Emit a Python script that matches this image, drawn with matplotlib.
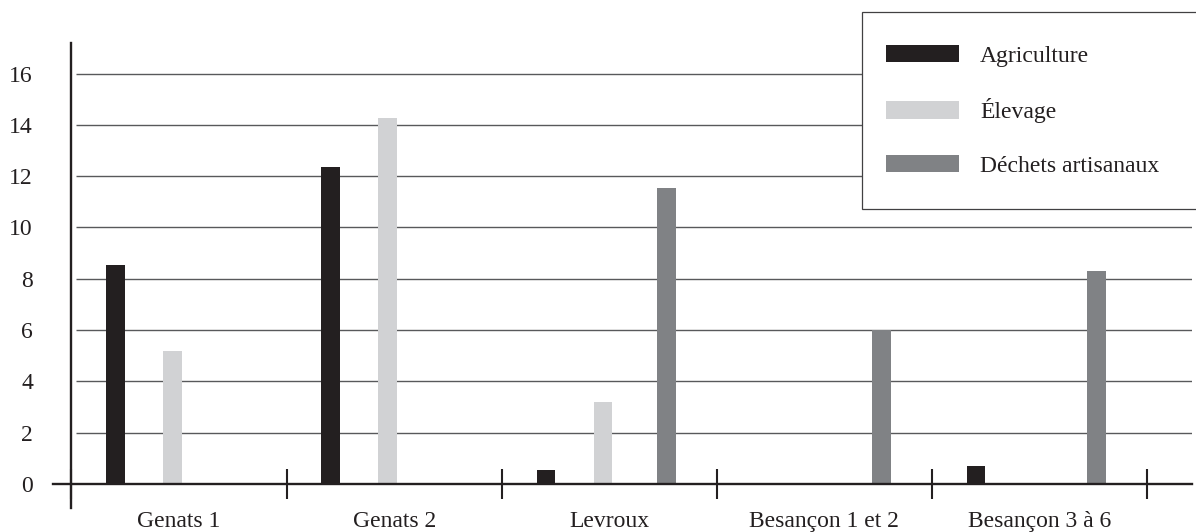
import matplotlib
matplotlib.use("Agg")
import matplotlib.pyplot as plt
import numpy as np
from matplotlib.patches import Rectangle
from matplotlib.ticker import FixedLocator, NullFormatter, FixedFormatter

# ---- data ----
categories = ["Genats 1", "Genats 2", "Levroux", "Besançon 1 et 2", "Besançon 3 à 6"]
series_names = ["Agriculture", "Élevage", "Déchets artisanaux"]
agriculture = [8.55, 12.35, 0.55, 0.0, 0.7]
elevage = [5.2, 14.25, 3.2, 0.0, 0.0]
dechets = [0.0, 0.0, 11.55, 6.0, 8.3]
y_ticks = [0, 2, 4, 6, 8, 10, 12, 14, 16]

colors = ["#231f20", "#d1d2d4", "#808285"]
offsets = [-0.295, -0.03, 0.265]
bar_w = 0.086

plt.rcParams['font.family'] = ['Liberation Serif', 'DejaVu Serif']

W, H = 1196, 532
fig = plt.figure(figsize=(W / 100, H / 100), dpi=100)
ax = fig.add_axes([53 / W, 1 - 508 / H, (1192 - 53) / W, (508 - 43) / H])
ax.set_xlim(-0.086, 5.2092)
ax.set_ylim(-0.936, 17.19)

dark = "#231f20"
for s in ["top", "right"]:
    ax.spines[s].set_visible(False)
for s in ["left", "bottom"]:
    ax.spines[s].set_position(("data", 0))
    ax.spines[s].set_linewidth(1.7)
    ax.spines[s].set_color(dark)
    ax.spines[s].set_zorder(4)

# gridlines
ax.hlines(y_ticks[1:], 0.021, 5.2092, colors="#58595b", linewidth=1.0, zorder=0)

x = np.arange(len(categories)) + 0.5
for vals, off, col, name in zip([agriculture, elevage, dechets], offsets, colors, series_names):
    ax.bar(x + off, vals, width=bar_w, color=col, label=name, zorder=2, linewidth=0)

# y ticks
ax.set_yticks(y_ticks)
ax.set_yticklabels([str(t) for t in y_ticks])
ax.tick_params(axis="y", length=0, pad=27.7, labelsize=17, labelcolor=dark)

# x ticks: boundaries as major ticks, labels on minor ticks
ax.xaxis.set_major_locator(FixedLocator(np.arange(len(categories) + 1)))
ax.xaxis.set_major_formatter(NullFormatter())
ax.xaxis.set_minor_locator(FixedLocator(x))
ax.xaxis.set_minor_formatter(FixedFormatter(categories))
ax.tick_params(axis="x", which="major", direction="inout", length=21.6, width=1.5, color=dark)
ax.tick_params(axis="x", which="minor", length=0, pad=19.5, labelsize=17, labelcolor=dark)

# legend box (drawn separately so it can run off the right edge)
box = Rectangle((862 / W, 1 - 209 / H), (1205 - 862) / W, (209 - 12) / H,
                transform=fig.transFigure, facecolor="white", edgecolor="#414042",
                linewidth=0.9, zorder=5, clip_on=False)
ax.add_patch(box)

leg = ax.legend(loc="upper left", bbox_to_anchor=(886 / W, 1 - 45 / H),
                bbox_transform=fig.transFigure,
                fontsize=17, handlelength=3.09, handleheight=0.76,
                handletextpad=0.89, borderpad=0, labelspacing=1.33,
                frameon=False, borderaxespad=0)
leg.set_zorder(6)
for t in leg.get_texts():
    t.set_color(dark)

fig.savefig("out.png", dpi=100)
